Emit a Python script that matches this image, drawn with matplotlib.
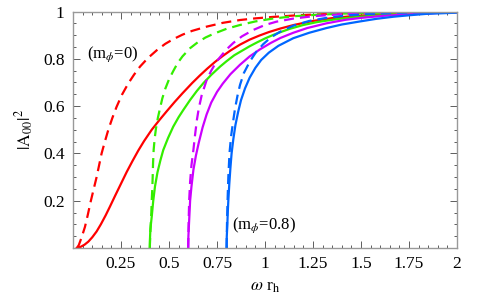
import matplotlib
matplotlib.use("Agg")
import matplotlib.pyplot as plt
from matplotlib.ticker import FixedLocator, MultipleLocator

plt.rcParams['font.family'] = ['Liberation Serif', 'DejaVu Serif']
plt.rcParams['mathtext.fontset'] = 'stix'

# data
red_solid_x = [0.02, 0.04, 0.06, 0.08, 0.10, 0.123, 0.145, 0.17, 0.193, 0.22, 0.25, 0.28, 0.31, 0.34, 0.37, 0.41, 0.45, 0.49, 0.53, 0.57, 0.62, 0.66, 0.70, 0.74, 0.78, 0.82, 0.87, 0.92, 0.97, 1.02, 1.08, 1.15, 1.25, 1.35, 1.45, 1.6, 1.8, 2.0]
red_solid_y = [0.0, 0.005, 0.014, 0.027, 0.045, 0.07, 0.10, 0.138, 0.176, 0.222, 0.272, 0.322, 0.368, 0.412, 0.452, 0.50, 0.541, 0.58, 0.618, 0.654, 0.697, 0.729, 0.759, 0.787, 0.812, 0.835, 0.86, 0.881, 0.898, 0.913, 0.928, 0.943, 0.96, 0.972, 0.98, 0.988, 0.995, 0.998]

red_dash_x = [0.02, 0.03, 0.045, 0.0625, 0.077, 0.092, 0.108, 0.123, 0.136, 0.149, 0.166, 0.184, 0.205, 0.227, 0.255, 0.288, 0.318, 0.349, 0.39, 0.436, 0.48, 0.522, 0.57, 0.62, 0.696, 0.78, 0.87, 0.95, 1.04, 1.15, 1.25, 1.4, 1.6, 1.8, 2.0]
red_dash_y = [0.0, 0.012, 0.045, 0.09, 0.14, 0.196, 0.25, 0.30, 0.35, 0.40, 0.45, 0.50, 0.55, 0.597, 0.648, 0.696, 0.733, 0.767, 0.803, 0.836, 0.863, 0.883, 0.902, 0.918, 0.936, 0.952, 0.964, 0.971, 0.977, 0.983, 0.987, 0.992, 0.996, 0.998, 0.999]

green_solid_x = [0.40, 0.401, 0.403, 0.41, 0.418, 0.427, 0.44, 0.455, 0.47, 0.495, 0.522, 0.55, 0.574, 0.61, 0.645, 0.68, 0.72, 0.766, 0.80, 0.84, 0.88, 0.92, 0.96, 1.0, 1.04, 1.078, 1.13, 1.2, 1.27, 1.35, 1.42, 1.5, 1.6, 1.75, 1.9, 2.0]
green_solid_y = [0.0, 0.04, 0.08, 0.132, 0.2, 0.26, 0.32, 0.37, 0.414, 0.465, 0.513, 0.553, 0.583, 0.626, 0.664, 0.698, 0.732, 0.767, 0.79, 0.815, 0.834, 0.853, 0.87, 0.886, 0.90, 0.912, 0.927, 0.943, 0.955, 0.965, 0.972, 0.978, 0.984, 0.99, 0.995, 0.997]

green_dash_x = [0.40, 0.402, 0.405, 0.408, 0.41, 0.413, 0.415, 0.417, 0.42, 0.425, 0.432, 0.442, 0.453, 0.465, 0.48, 0.50, 0.522, 0.545, 0.57, 0.61, 0.65, 0.69, 0.73, 0.80, 0.87, 0.95, 1.04, 1.15, 1.25, 1.4, 1.6, 1.8, 2.0]
green_dash_y = [0.0, 0.05, 0.1, 0.15, 0.2, 0.25, 0.3, 0.36, 0.414, 0.46, 0.505, 0.55, 0.59, 0.632, 0.672, 0.713, 0.748, 0.782, 0.81, 0.845, 0.87, 0.89, 0.905, 0.927, 0.943, 0.958, 0.97, 0.98, 0.985, 0.991, 0.995, 0.998, 0.999]

mag_solid_x = [0.60, 0.601, 0.604, 0.607, 0.61, 0.617, 0.627, 0.64, 0.655, 0.675, 0.696, 0.72, 0.75, 0.78, 0.82, 0.87, 0.92, 0.974, 1.03, 1.08, 1.147, 1.22, 1.32, 1.42, 1.5, 1.62, 1.75, 1.9, 2.0]
mag_solid_y = [0.0, 0.05, 0.1, 0.15, 0.2, 0.26, 0.33, 0.39, 0.445, 0.51, 0.565, 0.615, 0.66, 0.695, 0.735, 0.775, 0.81, 0.84, 0.867, 0.888, 0.91, 0.93, 0.95, 0.965, 0.973, 0.982, 0.988, 0.994, 0.996]

mag_dash_x = [0.60, 0.602, 0.605, 0.61, 0.617, 0.627, 0.636, 0.645, 0.655, 0.67, 0.696, 0.72, 0.745, 0.766, 0.80, 0.835, 0.88, 0.939, 1.0, 1.06, 1.147, 1.25, 1.4, 1.6, 1.8, 2.0]
mag_dash_y = [0.0, 0.1, 0.2, 0.28, 0.35, 0.414, 0.48, 0.54, 0.59, 0.645, 0.71, 0.75, 0.785, 0.807, 0.84, 0.867, 0.895, 0.922, 0.943, 0.957, 0.97, 0.98, 0.989, 0.995, 0.998, 0.999]

blue_solid_x = [0.80, 0.801, 0.804, 0.806, 0.809, 0.814, 0.82, 0.826, 0.835, 0.846, 0.86, 0.875, 0.896, 0.92, 0.95, 0.98, 1.02, 1.07, 1.147, 1.23, 1.32, 1.4, 1.495, 1.58, 1.67, 1.75, 1.84, 2.0]
blue_solid_y = [0.0, 0.05, 0.1, 0.15, 0.2, 0.27, 0.34, 0.4, 0.46, 0.52, 0.575, 0.625, 0.675, 0.72, 0.762, 0.795, 0.826, 0.855, 0.887, 0.91, 0.93, 0.945, 0.958, 0.969, 0.978, 0.984, 0.99, 0.995]

blue_dash_x = [0.80, 0.802, 0.805, 0.809, 0.815, 0.823, 0.833, 0.844, 0.857, 0.87, 0.89, 0.922, 0.955, 0.991, 1.03, 1.08, 1.147, 1.23, 1.32, 1.42, 1.55, 1.75, 2.0]
blue_dash_y = [0.0, 0.1, 0.2, 0.3, 0.4, 0.47, 0.53, 0.59, 0.645, 0.69, 0.74, 0.79, 0.83, 0.862, 0.89, 0.915, 0.94, 0.96, 0.973, 0.983, 0.99, 0.996, 0.999]

x_ticks = [0.25, 0.5, 0.75, 1.0, 1.25, 1.5, 1.75, 2.0]
x_labels = ['0.25', '0.5', '0.75', '1', '1.25', '1.5', '1.75', '2']
y_ticks = [0.2, 0.4, 0.6, 0.8, 1.0]
y_labels = ['0.2', '0.4', '0.6', '0.8', '1']

RED = '#ff0000'
GREEN = '#33ee00'
MAG = '#cc00ff'
BLUE = '#0066ff'

fig = plt.figure(figsize=(4.82, 2.98), dpi=100)
ax = fig.add_axes([73/482, 50/298, 384/482, 236.5/298])

lw = 1.6
dash = (4.5, 2.7)
series = [
    (red_solid_x, red_solid_y, RED, None),
    (red_dash_x, red_dash_y, RED, dash),
    (green_solid_x, green_solid_y, GREEN, None),
    (green_dash_x, green_dash_y, GREEN, dash),
    (mag_solid_x, mag_solid_y, MAG, None),
    (mag_dash_x, mag_dash_y, MAG, dash),
    (blue_solid_x, blue_solid_y, BLUE, None),
    (blue_dash_x, blue_dash_y, BLUE, dash),
]
for xs, ys, c, d in series:
    line, = ax.plot(xs, ys, color=c, lw=lw, solid_joinstyle='round')
    if d is not None:
        line.set_dashes(d)
        line.set_dash_capstyle('butt')

ax.set_xlim(0, 2)
ax.set_ylim(0, 1)
ax.xaxis.set_major_locator(FixedLocator(x_ticks))
ax.set_xticklabels(x_labels)
ax.yaxis.set_major_locator(FixedLocator(y_ticks))
ax.set_yticklabels(y_labels)
ax.xaxis.set_minor_locator(MultipleLocator(0.05))
ax.yaxis.set_minor_locator(MultipleLocator(0.05))
ax.tick_params(which='both', direction='in', top=True, right=True,
               color='#444444', width=0.6, labelsize=12.5, pad=6)
ax.tick_params(which='major', length=5)
ax.tick_params(which='minor', length=2.5)
ax.tick_params(axis='both', labeltop=False, labelright=False)
for s in ax.spines.values():
    s.set_color('#999999')
    s.set_linewidth(1.0)

ax.set_xlabel(r'$\omega$ r$_\mathrm{h}$', fontsize=12.5, labelpad=5)
ax.set_ylabel(r'$|\mathrm{A}_{00}|^2$', fontsize=12.5, labelpad=5)

ax.text(0.075, 0.805, r'(m$_\phi$=0)', fontsize=12)
ax.text(0.83, 0.08, r'(m$_\phi$=0.8)', fontsize=12)

fig.savefig('out.png', dpi=100)
